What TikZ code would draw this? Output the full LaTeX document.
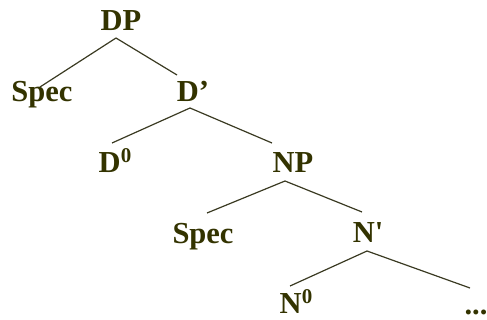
\documentclass[tikz,border=0pt]{standalone}
\usepackage{fontspec}
\setmainfont{Liberation Serif}
\newfontfamily\rawserif{Liberation Serif}
\definecolor{olive}{HTML}{333300}
\definecolor{branch}{HTML}{3A3A22}
\newcommand{\supzero}{\raisebox{10pt}{\fontsize{21}{21}\selectfont 0}}
\begin{document}
\begin{tikzpicture}[x=1pt,y=-1pt,
  lab/.style={anchor=base, inner sep=0pt, text=olive, font=\fontsize{30.5}{30.5}\selectfont\bfseries},
  branchline/.style={draw=branch, line width=1.2pt}]
\useasboundingbox (0,0) rectangle (487,320);
% nodes
\node[lab] (DP) at (121,31) {DP};
\node[lab] (Spec1) at (42,102) {Spec};
\node[lab] (Dbar) at (193,102) {D’};
\node[lab] (D0) at (115,173) {D\supzero};
\node[lab] (NP) at (293,173) {NP};
\node[lab] (Spec2) at (203,244) {Spec};
\node[lab] (Nbar) at (368,243) {N{\rawserif\bfseries '}};
\node[lab] (N0) at (296,313) {N\supzero};
\node[lab] (dots) at (476,314) {...};
% branch end points
\coordinate (DPb) at (116,38);
\coordinate (Spec1t) at (40,87);
\coordinate (Dbart) at (177,75);
\coordinate (Dbarb) at (190,108);
\coordinate (D0t) at (112,143);
\coordinate (NPt) at (272,143);
\coordinate (NPb) at (285,181);
\coordinate (Spec2t) at (207,213);
\coordinate (Nbart) at (362,212);
\coordinate (Nbarb) at (367,251);
\coordinate (N0t) at (290,286);
\coordinate (dotst) at (470,288);
% branches
\draw[branchline] (DPb) -- (Spec1t);
\draw[branchline] (DPb) -- (Dbart);
\draw[branchline] (Dbarb) -- (D0t);
\draw[branchline] (Dbarb) -- (NPt);
\draw[branchline] (NPb) -- (Spec2t);
\draw[branchline] (NPb) -- (Nbart);
\draw[branchline] (Nbarb) -- (N0t);
\draw[branchline] (Nbarb) -- (dotst);
\end{tikzpicture}
\end{document}
